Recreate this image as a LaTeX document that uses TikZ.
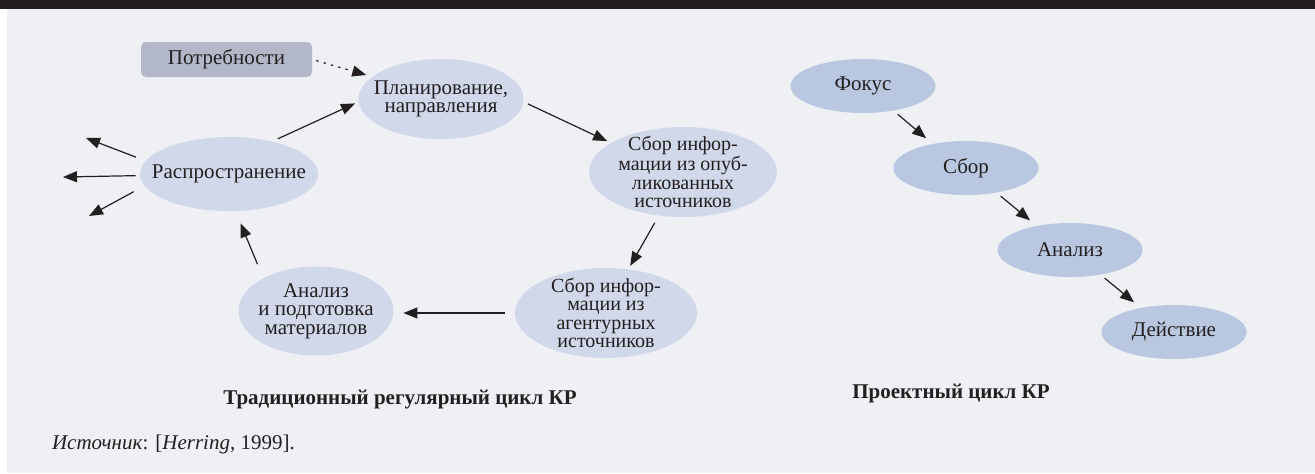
\documentclass[tikz,border=0pt]{standalone}
\usepackage{fontspec}
\setmainfont{Liberation Serif}
\usetikzlibrary{arrows.meta,shapes.geometric}
\definecolor{barblack}{HTML}{231F20}
\definecolor{panelbg}{HTML}{EEF0F4}
\definecolor{cycfill}{HTML}{D0D8EA}
\definecolor{projfill}{HTML}{B9C7E1}
\definecolor{needfill}{HTML}{B3B8C8}
\begin{document}
\begin{tikzpicture}[x=0.5pt, y=-0.5pt,
  every node/.style={font=\fontsize{10.5}{9.25}\selectfont, text=barblack},
  cyc/.style={ellipse, fill=cycfill, inner sep=-8pt, align=center},
  tightcyc/.style={cyc, font=\fontsize{10}{9.2}\selectfont},
  proj/.style={ellipse, fill=projfill, inner sep=-8pt, minimum width=72.5pt, minimum height=27pt},
  needbox/.style={rectangle, rounded corners=2.5pt, fill=needfill, inner sep=0pt, minimum width=85.5pt, minimum height=17.5pt},
  arr/.style={-{Triangle[length=7pt,width=5.5pt]}, line width=0.6pt, barblack},
  caption/.style={font=\fontsize{10.5}{12}\selectfont\bfseries}]
  \useasboundingbox (0,0) rectangle (1315,473);
  % panel
  \fill[white] (0,0) rectangle (1315,473);
  \fill[panelbg] (7,9) rectangle (1315,473);
  \fill[barblack] (0,0) rectangle (1315,9);
  % regular cycle
  \node[needbox] (needs) at (226.5,59.5) {Потребности};
  \node[cyc, minimum width=82.5pt, minimum height=40pt] (plan) at (441,99) {Планирование,\\направления};
  \node[tightcyc, minimum width=94pt, minimum height=45pt] (pubsrc) at (683,172) {Сбор инфор-\\мации из опуб-\\ликованных\\источников};
  \node[tightcyc, minimum width=91pt, minimum height=45pt] (agsrc) at (606,313) {Сбор инфор-\\мации из\\агентурных\\источников};
  \node[cyc, minimum width=77.5pt, minimum height=44.5pt] (anal) at (316,311) {Анализ\\и подготовка\\материалов};
  \node[cyc, minimum width=89pt, minimum height=37pt] (rasp) at (229,174) {Распространение};
  \coordinate (outA) at (86,138);
  \coordinate (outB) at (63,177);
  \coordinate (outC) at (89,216);
  \draw[arr, dash pattern=on 1.2pt off 2.6pt, shorten <=2pt, shorten >=3pt] (needs.east) -- (plan.162);
  \draw[arr, shorten <=3pt, shorten >=1.8pt] (rasp.37) -- (plan.182);
  \draw[arr, shorten <=2.3pt, shorten >=2pt] (plan.-2.6) -- (pubsrc.158);
  \draw[arr, shorten <=4pt, shorten >=1.8pt] (pubsrc.241.6) -- (agsrc.63.4);
  \draw[arr, shorten <=5pt, shorten >=4.75pt] (agsrc.west) -- (agsrc.west -| anal.east);
  \draw[arr, shorten <=7.5pt, shorten >=6.5pt] (anal.148.4) -- (rasp.-80.6);
  \draw[arr, shorten <=5pt] (rasp.171.9) -- (outA);
  \draw[arr, shorten <=2pt] (rasp.181.9) -- (outB);
  \draw[arr, shorten <=6pt] (rasp.188.9) -- (outC);
  % project cycle
  \node[proj] (focus) at (863,86) {Фокус};
  \node[proj] (collect) at (966,168) {Сбор};
  \node[proj] (analysis) at (1070,250) {Анализ};
  \node[proj] (action) at (1174,332) {Действие};
  \foreach \a/\b in {focus/collect, collect/analysis, analysis/action}
    \draw[arr, shorten <=2.6pt, shorten >=4.2pt] (\a.-39.5) -- (\b.144);
  % captions
  \node[caption] (capcycle) at (400,400) {Традиционный регулярный цикл КР};
  \node[caption] (capproj) at (951,393) {Проектный цикл КР};
  \node[anchor=west] (source) at (45,444) {\textit{Источник}: [\textit{Herring}, 1999].};
\end{tikzpicture}
\end{document}
